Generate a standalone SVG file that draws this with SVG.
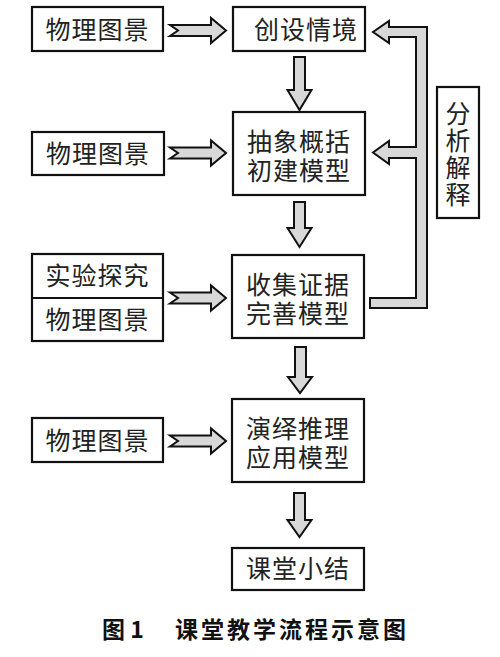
<svg xmlns="http://www.w3.org/2000/svg" width="500" height="657" viewBox="0 0 500 657">
<style>
.box{fill:#fff;stroke:#111;stroke-width:2.2}
.arr{fill:#d8d8d8;stroke:#111;stroke-width:2;stroke-linejoin:miter}
.t{font-family:"Noto Sans CJK SC","Noto Sans CJK JP",sans-serif;font-size:25px;fill:#222;text-anchor:middle;letter-spacing:1px}
.v{font-family:"Noto Sans CJK SC","Noto Sans CJK JP",sans-serif;font-size:25px;fill:#222;writing-mode:vertical-rl;text-orientation:upright;letter-spacing:2px}
.cap{font-family:"Noto Sans CJK SC",sans-serif;font-size:23px;font-weight:bold;fill:#111}
</style>
<defs>
<path id="ha" d="M0,-5.5 L41,-5.5 L41,-12.5 L56,0 L41,12.5 L41,5.5 L0,5.5 L8,0 Z"/>
</defs>
<rect width="500" height="657" fill="#fff"/>
<g id="connectors">
<use href="#ha" class="arr" x="170" y="30.5"/>
<use href="#ha" class="arr" x="170" y="153"/>
<use href="#ha" class="arr" x="170" y="298"/>
<use href="#ha" class="arr" x="170" y="441"/>
<path class="arr" d="M294,57 L305,57 L305,90 L311.5,90 L299.5,110 L287.5,90 L294,90 Z"/>
<path class="arr" d="M294,202 L305,202 L305,228 L311.5,228 L299.5,247 L287.5,228 L294,228 Z"/>
<path class="arr" d="M295,347 L306,347 L306,377 L312,377 L300,393 L288,377 L295,377 Z"/>
<path class="arr" d="M294,493 L305,493 L305,520 L311.5,520 L299.5,537 L287.5,520 L294,520 Z"/>
<path class="arr" d="M370,298 L416,298 L416,158 L389,158 L389,164 L373,152.5 L389,141 L389,147 L416,147 L416,37 L389,37 L389,43 L373,32 L389,21 L389,27 L427,27 L427,308 L370,308 Z"/>
</g>
<g id="n1"><rect class="box" x="32" y="7" width="131" height="44"/><text class="t" x="97.5" y="39">物理图景</text></g>
<g id="n2"><rect class="box" x="233" y="7" width="132" height="44"/><text class="t" x="306" y="39">创设情境</text></g>
<g id="n3"><rect class="box" x="32" y="132" width="132" height="43"/><text class="t" x="98" y="163">物理图景</text></g>
<g id="n4"><rect class="box" x="233" y="112" width="132" height="83"/><text class="t" y="151"><tspan x="299">抽象概括</tspan><tspan x="299" dy="29">初建模型</tspan></text></g>
<g id="n5"><rect class="box" x="32" y="254" width="131" height="87"/><line x1="32" y1="298" x2="163" y2="298" stroke="#111" stroke-width="2"/><text class="t" x="97.5" y="285">实验探究</text><text class="t" x="97.5" y="329">物理图景</text></g>
<g id="n6"><rect class="box" x="232" y="255" width="132" height="83"/><text class="t" y="294"><tspan x="298">收集证据</tspan><tspan x="298" dy="29">完善模型</tspan></text></g>
<g id="n7"><rect class="box" x="437" y="87" width="42" height="131"/><text class="v" x="458" y="101">分析解释</text></g>
<g id="n8"><rect class="box" x="32" y="418" width="131" height="44"/><text class="t" x="97.5" y="450">物理图景</text></g>
<g id="n9"><rect class="box" x="232" y="399" width="132" height="83"/><text class="t" y="438"><tspan x="298">演绎推理</tspan><tspan x="298" dy="29">应用模型</tspan></text></g>
<g id="n10"><rect class="box" x="232" y="548" width="132" height="42"/><text class="t" x="298" y="578">课堂小结</text></g>
<text class="cap" x="102" y="638">图 1</text>
<text class="cap" x="175" y="638" letter-spacing="3">课堂教学流程示意图</text>
</svg>
